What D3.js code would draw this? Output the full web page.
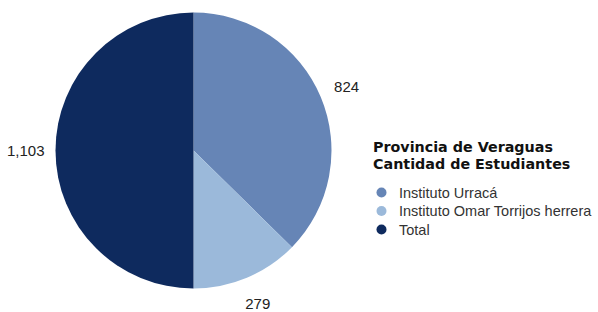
<!DOCTYPE html>
<html>
<head>
<meta charset="utf-8">
<script src="https://cdn.jsdelivr.net/npm/d3@7"></script>
<style>
  body { margin: 0; background: #fff; }
  svg { display: block; }
</style>
</head>
<body>
<div id="chart"></div>
<script>
// data
var categories = ['Instituto Urracá', 'Instituto Omar Torrijos herrera', 'Total'];
var values = [824, 279, 1103];
var colors = ['#6685b6', '#9bb9da', '#0e2a5e'];
var titleLines = ['Provincia de Veraguas', 'Cantidad de Estudiantes'];

var width = 598, height = 312;
var cx = 193.5, cy = 150.5, radius = 138;

var data = categories.map(function(c, i) {
  return { name: c, value: values[i], color: colors[i] };
});

var svg = d3.select('#chart').append('svg')
  .attr('width', width)
  .attr('height', height);

var pie = d3.pie()
  .value(function(d) { return d.value; })
  .sort(null);

var arc = d3.arc().innerRadius(0).outerRadius(radius);
var labelArc = d3.arc().innerRadius(166).outerRadius(166);

var g = svg.append('g').attr('transform', 'translate(' + cx + ',' + cy + ')');

var arcs = pie(data);

g.selectAll('path.slice')
  .data(arcs)
  .enter()
  .append('path')
  .attr('class', 'slice')
  .attr('d', arc)
  .attr('fill', function(d) { return d.data.color; });

var fmt = d3.format(',');

g.selectAll('text.label')
  .data(arcs)
  .enter()
  .append('text')
  .attr('class', 'label')
  .attr('transform', function(d) {
    var c = labelArc.centroid(d);
    return 'translate(' + c[0] + ',' + c[1] + ')';
  })
  .attr('text-anchor', function(d) {
    var mid = (d.startAngle + d.endAngle) / 2;
    return mid > Math.PI * 1.25 ? 'end' : 'middle';
  })
  .attr('dx', function(d) {
    var mid = (d.startAngle + d.endAngle) / 2;
    return mid > Math.PI * 1.25 ? 17 : 0;
  })
  .attr('dy', '0.35em')
  .style('font-family', '"Liberation Sans", Arial, sans-serif')
  .style('font-size', '15px')
  .style('fill', '#222')
  .text(function(d) { return fmt(d.data.value); });

// legend
var legend = svg.append('g').attr('transform', 'translate(373,0)');

legend.selectAll('text.title')
  .data(titleLines)
  .enter()
  .append('text')
  .attr('class', 'title')
  .attr('x', 0)
  .attr('y', function(d, i) { return 152 + i * 17; })
  .style('font-family', '"DejaVu Sans", Verdana, sans-serif')
  .style('font-weight', 'bold')
  .style('font-size', '14.3px')
  .style('fill', '#111')
  .text(function(d) { return d; });

var items = legend.selectAll('g.item')
  .data(data)
  .enter()
  .append('g')
  .attr('class', 'item')
  .attr('transform', function(d, i) { return 'translate(0,' + (192.5 + i * 18.5) + ')'; });

items.append('circle')
  .attr('cx', 8.5)
  .attr('cy', 0)
  .attr('r', 5)
  .attr('fill', function(d) { return d.color; });

items.append('text')
  .attr('x', 26)
  .attr('dy', '0.35em')
  .style('font-family', '"Liberation Sans", Arial, sans-serif')
  .style('font-size', '14.5px')
  .style('fill', '#333')
  .text(function(d) { return d.name; });
</script>
</body>
</html>
